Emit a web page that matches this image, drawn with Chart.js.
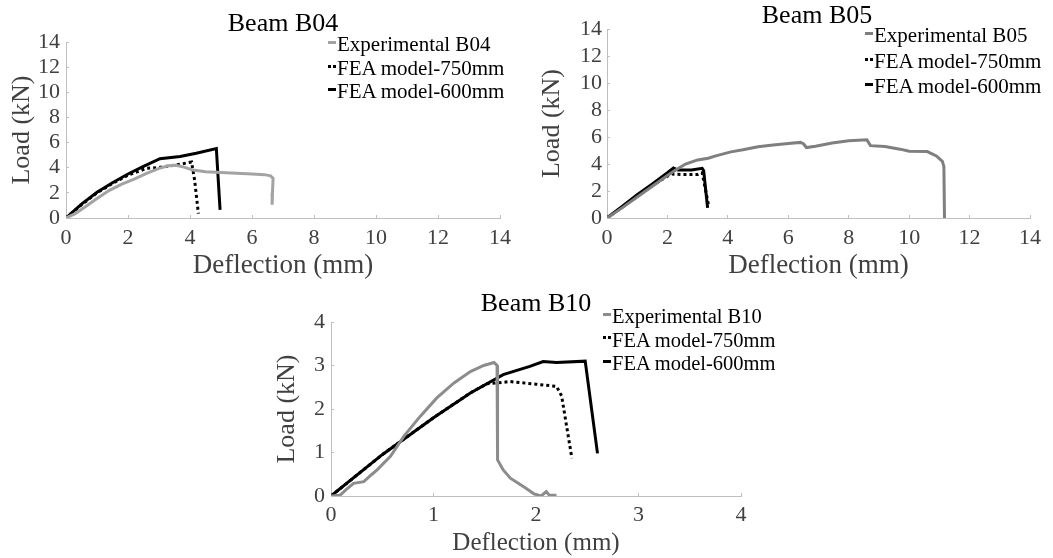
<!DOCTYPE html>
<html>
<head>
<meta charset="utf-8">
<title>Beam load-deflection</title>
<script src="https://cdn.jsdelivr.net/npm/chart.js@4.4.1/dist/chart.umd.min.js"></script>
<style>
    body {
        margin: 0;
        width: 1053px;
        height: 558px;
        position: relative;
        overflow: hidden;
        background: #fff;
        font-family: 'Liberation Serif', 'Times New Roman', serif;
    }
    canvas { position: absolute; }
    .title {
        position: absolute;
        font-size: 26px;
        line-height: 26px;
        color: #000;
        white-space: nowrap;
        transform: translateX(-50%);
    }
    .legend { position: absolute; color: #000; white-space: nowrap; }
    .legend .row { position: relative; }
    .legend .mark { position: absolute; height: 3px; }
</style>
</head>
<body>
<canvas id="chartB04" width="530" height="290" style="left:0;top:0"></canvas>
<canvas id="chartB05" width="523" height="290" style="left:530px;top:0"></canvas>
<canvas id="chartB10" width="530" height="288" style="left:270px;top:270px"></canvas>

<div class="title" style="left:283px;top:10px">Beam B04</div>
<div class="title" style="left:817px;top:2px">Beam B05</div>
<div class="title" style="left:536px;top:290px">Beam B10</div>

<div class="legend" id="legendB04"></div>
<div class="legend" id="legendB05"></div>
<div class="legend" id="legendB10"></div>

<script>
// Series names
const b04Labels = ['Experimental B04', 'FEA model-750mm', 'FEA model-600mm'];
const b05Labels = ['Experimental B05', 'FEA model-750mm', 'FEA model-600mm'];
const b10Labels = ['Experimental B10', 'FEA model-750mm', 'FEA model-600mm'];

// Tick values
const bigTicks = [0, 2, 4, 6, 8, 10, 12, 14];
const b10Ticks = [0, 1, 2, 3, 4];

// Beam B04 - deflection (mm) / load (kN)
const b04ExpX = [0, 0.3, 0.6, 1.0, 1.4, 1.8, 2.2, 2.6, 3.0, 3.3, 3.55, 3.8, 4.1, 4.5, 5.0, 5.5, 6.0, 6.4, 6.6, 6.68, 6.66, 6.65];
const b04ExpY = [0, 0.35, 0.85, 1.55, 2.2, 2.7, 3.1, 3.55, 3.95, 4.15, 4.2, 4.05, 3.82, 3.68, 3.62, 3.56, 3.5, 3.45, 3.35, 3.15, 2.0, 1.05];
const b04F750X = [0, 0.5, 1.0, 1.5, 2.0, 2.6, 3.0, 3.5, 4.05, 4.15, 4.27];
const b04F750Y = [0, 1.05, 2.0, 2.75, 3.4, 3.95, 4.02, 4.2, 4.45, 3.0, 0.35];
const b04F600X = [0, 0.5, 1.0, 1.5, 2.0, 2.5, 3.03, 3.68, 4.2, 4.85, 4.97];
const b04F600Y = [0, 1.1, 2.05, 2.8, 3.5, 4.1, 4.72, 4.9, 5.15, 5.52, 0.65];

// Beam B05
const b05ExpX = [0, 0.5, 1.0, 1.5, 2.0, 2.3, 2.6, 3.0, 3.35, 3.6, 4.1, 4.5, 5.0, 5.5, 6.0, 6.4, 6.5, 6.6, 6.9, 7.45, 8.0, 8.6, 8.72, 9.2, 9.7, 10.0, 10.6, 10.9, 11.1, 11.15, 11.17];
const b05ExpY = [0, 0.75, 1.55, 2.35, 3.15, 3.6, 4.0, 4.3, 4.43, 4.6, 4.9, 5.05, 5.28, 5.4, 5.52, 5.6, 5.5, 5.22, 5.32, 5.55, 5.72, 5.8, 5.36, 5.3, 5.1, 4.95, 4.92, 4.6, 4.2, 3.8, 0];
const b05F750X = [0, 0.5, 1.0, 1.5, 2.0, 2.15, 2.5, 3.0, 3.15, 3.25, 3.37];
const b05F750Y = [0, 0.8, 1.62, 2.4, 3.1, 3.25, 3.22, 3.22, 3.35, 2.2, 0.85];
const b05F600X = [0, 0.5, 1.0, 1.5, 2.0, 2.2, 2.35, 2.8, 3.15, 3.2, 3.27, 3.33];
const b05F600Y = [0, 0.85, 1.72, 2.52, 3.35, 3.7, 3.55, 3.55, 3.68, 3.5, 2.0, 0.75];

// Beam B10
const b10ExpX = [0, 0.09, 0.15, 0.22, 0.32, 0.4, 0.45, 0.58, 0.71, 0.87, 1.03, 1.2, 1.36, 1.49, 1.59, 1.62, 1.625, 1.68, 1.75, 1.88, 1.98, 2.05, 2.1, 2.13, 2.2];
const b10ExpY = [0, 0.02, 0.15, 0.29, 0.33, 0.5, 0.6, 0.91, 1.37, 1.83, 2.25, 2.6, 2.86, 3.0, 3.07, 3.0, 0.83, 0.6, 0.41, 0.21, 0.05, 0.0, 0.1, 0.02, 0.02];
const b10F750X = [0, 0.5, 1.0, 1.36, 1.52, 1.75, 2.0, 2.2, 2.25, 2.35];
const b10F750Y = [0, 0.95, 1.8, 2.37, 2.58, 2.63, 2.57, 2.52, 2.3, 0.87];
const b10F600X = [0, 0.5, 1.0, 1.36, 1.68, 1.94, 2.07, 2.2, 2.48, 2.6];
const b10F600Y = [0, 0.95, 1.8, 2.37, 2.79, 2.98, 3.09, 3.07, 3.1, 0.98];

const FONT = "'Liberation Serif', 'Times New Roman', serif";
const AXIS_COLOR = '#bfbfbf';
const TEXT_COLOR = '#404040';

function points(xs, ys) {
    return xs.map((x, i) => ({ x: x, y: ys[i] }));
}

function series(label, xs, ys, color, dashed) {
    return {
        label: label,
        data: points(xs, ys),
        borderColor: color,
        backgroundColor: color,
        borderWidth: 3,
        borderDash: dashed ? [3, 3] : [],
        borderCapStyle: 'butt',
        borderJoinStyle: 'miter',
        pointRadius: 0,
        tension: 0,
        fill: false
    };
}

// Build one chart; box = plot area inside the canvas
function makeChart(id, datasets, opt) {
    const canvas = document.getElementById(id);
    const W = canvas.width, H = canvas.height;
    const box = opt.box;

    const setTicks = (vals) => (scale) => {
        scale.ticks = vals.map(v => ({ value: v }));
    };

    return new Chart(canvas.getContext('2d'), {
        type: 'line',
        data: { datasets: datasets },
        options: {
            responsive: false,
            animation: false,
            layout: { padding: { left: 0, top: box.top, right: W - box.right, bottom: 0 } },
            plugins: { legend: { display: false }, tooltip: { enabled: false } },
            scales: {
                x: {
                    type: 'linear',
                    min: opt.xTicks[0],
                    max: opt.xTicks[opt.xTicks.length - 1],
                    afterBuildTicks: setTicks(opt.xTicks),
                    afterFit: (scale) => { scale.height = H - box.bottom; },
                    grid: { drawOnChartArea: false, tickLength: -3, color: AXIS_COLOR, lineWidth: 1 },
                    border: { color: AXIS_COLOR, width: 1 },
                    ticks: {
                        autoSkip: false, maxRotation: 0, padding: opt.xTickPad, color: TEXT_COLOR,
                        font: { family: FONT, size: 22, lineHeight: 1 }
                    },
                    title: {
                        display: true, text: 'Deflection (mm)', color: TEXT_COLOR,
                        font: { family: FONT, size: opt.xTitleSize, lineHeight: 1 },
                        padding: { top: 0, bottom: opt.xTitlePad }
                    }
                },
                y: {
                    type: 'linear',
                    min: opt.yTicks[0],
                    max: opt.yTicks[opt.yTicks.length - 1],
                    afterBuildTicks: setTicks(opt.yTicks),
                    afterFit: (scale) => { scale.width = box.left; },
                    grid: { drawOnChartArea: false, tickLength: -3, color: AXIS_COLOR, lineWidth: 1 },
                    border: { color: AXIS_COLOR, width: 1 },
                    ticks: {
                        autoSkip: false, padding: opt.yTickPad, color: TEXT_COLOR,
                        font: { family: FONT, size: 22, lineHeight: 1 }
                    },
                    title: {
                        display: true, text: 'Load (kN)', color: TEXT_COLOR,
                        font: { family: FONT, size: 26, lineHeight: 1 },
                        padding: { top: opt.yTitlePad, bottom: 0 }
                    }
                }
            }
        }
    });
}

// HTML legend placed where the original shows it
function makeLegend(id, chart, pos) {
    const el = document.getElementById(id);
    el.style.left = pos.left + 'px';
    el.style.top = (pos.firstRow - pos.rowH / 2) + 'px';
    el.style.fontSize = pos.size + 'px';
    el.style.lineHeight = pos.rowH + 'px';
    chart.data.datasets.forEach(ds => {
        const row = document.createElement('div');
        row.className = 'row';
        const mark = document.createElement('span');
        mark.className = 'mark';
        const c = ds.borderColor;
        const dashed = ds.borderDash.length > 0;
        const w = 8;
        mark.style.width = w + 'px';
        mark.style.left = (-w - 1) + 'px';
        mark.style.top = (pos.rowH / 2 - 4) + 'px';
        mark.style.background = dashed
            ? 'linear-gradient(to right, ' + c + ' 0 3px, transparent 3px 5px, ' + c + ' 5px 8px)'
            : c;
        row.appendChild(mark);
        row.appendChild(document.createTextNode(ds.label));
        el.appendChild(row);
    });
}

const chartB04 = makeChart('chartB04', [
    series(b04Labels[0], b04ExpX, b04ExpY, '#a3a3a3', false),
    series(b04Labels[1], b04F750X, b04F750Y, '#000000', true),
    series(b04Labels[2], b04F600X, b04F600Y, '#000000', false)
], {
    box: { left: 66, top: 42, right: 500, bottom: 218 },
    xTicks: bigTicks, yTicks: bigTicks,
    xTickPad: 12, yTickPad: 9, xTitleSize: 27, xTitlePad: 11, yTitlePad: 9.5
});

const chartB05 = makeChart('chartB05', [
    series(b05Labels[0], b05ExpX, b05ExpY, '#7f7f7f', false),
    series(b05Labels[1], b05F750X, b05F750Y, '#000000', true),
    series(b05Labels[2], b05F600X, b05F600Y, '#000000', false)
], {
    box: { left: 77, top: 29, right: 507, bottom: 218 },
    xTicks: bigTicks, yTicks: bigTicks,
    xTickPad: 12, yTickPad: 8, xTitleSize: 27, xTitlePad: 11, yTitlePad: 9.5
});

const chartB10 = makeChart('chartB10', [
    series(b10Labels[0], b10ExpX, b10ExpY, '#8c8c8c', false),
    series(b10Labels[1], b10F750X, b10F750Y, '#000000', true),
    series(b10Labels[2], b10F600X, b10F600Y, '#000000', false)
], {
    box: { left: 61, top: 52, right: 471, bottom: 226 },
    xTicks: b10Ticks, yTicks: b10Ticks,
    xTickPad: 11, yTickPad: 9, xTitleSize: 25, xTitlePad: 2, yTitlePad: 4.5
});

makeLegend('legendB04', chartB04, { left: 337, firstRow: 45, rowH: 23.5, size: 21 });
makeLegend('legendB05', chartB05, { left: 874, firstRow: 36, rowH: 25.5, size: 21 });
makeLegend('legendB10', chartB10, { left: 612, firstRow: 317, rowH: 23.3, size: 20.5 });
</script>
</body>
</html>
